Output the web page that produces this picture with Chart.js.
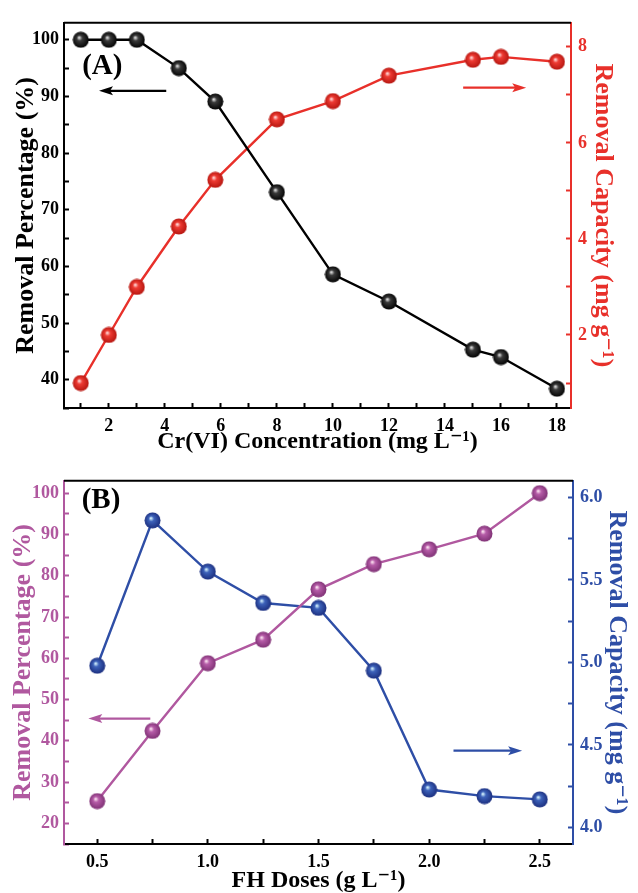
<!DOCTYPE html>
<html lang="en">
<head>
<meta charset="UTF-8">
<title>Cr(VI) removal</title>
<script src="https://cdn.jsdelivr.net/npm/chart.js@4.4.0/dist/chart.umd.min.js"></script>
<style>
  body { margin: 0; background: #fff; font-family: 'Liberation Serif', serif; }
  .panel { position: absolute; left: 0; width: 638px; }
</style>
</head>
<body>
<div class="panel" style="top:0;height:458px"><canvas id="chartA" width="638" height="458"></canvas></div>
<div class="panel" style="top:458px;height:435px"><canvas id="chartB" width="638" height="435"></canvas></div>
<script>
// panel A: effect of Cr(VI) concentration
const concA = [1, 2, 3, 4.5, 5.8, 8, 10, 12, 15, 16, 18];
const percentA = [100, 100, 100, 95.0, 89.1, 73.1, 58.6, 53.8, 45.3, 44.0, 38.4];
const capacityA = [1.0, 2.0, 3.0, 4.26, 5.23, 6.49, 6.87, 7.40, 7.73, 7.79, 7.69];

// panel B: effect of FH dose
const dosesB = [0.5, 0.75, 1.0, 1.25, 1.5, 1.75, 2.0, 2.25, 2.5];
const percentB = [25.4, 42.4, 58.8, 64.5, 76.7, 82.8, 86.4, 90.2, 100];
const capacityB = [4.98, 5.86, 5.55, 5.36, 5.33, 4.95, 4.23, 4.19, 4.17];

const BLACK = '#000000';
const RED = '#e8302a';
const PURPLE = '#b0589f';
const BLUE = '#2e4ea6';
const SERIF = "'Liberation Serif', 'DejaVu Serif', serif";

Chart.defaults.font.family = SERIF;
Chart.defaults.font.weight = 'bold';

function pts(xs, ys) {
  return xs.map((x, i) => ({ x: x, y: ys[i] }));
}

// little shaded ball used as marker
function sphere(hi, mid, dark) {
  const c = document.createElement('canvas');
  c.width = 17; c.height = 17;
  const g = c.getContext('2d');
  const grd = g.createRadialGradient(6.8, 6.2, 0.3, 8.5, 8.5, 8.5);
  grd.addColorStop(0, hi);
  grd.addColorStop(0.3, mid);
  grd.addColorStop(1, dark);
  g.fillStyle = grd;
  g.beginPath();
  g.arc(8.5, 8.5, 8, 0, Math.PI * 2);
  g.fill();
  return c;
}

function series(data, color, ball, axis) {
  return {
    data: data,
    yAxisID: axis,
    borderColor: color,
    borderWidth: 2.4,
    pointStyle: ball,
    pointRadius: 8,
    clip: false
  };
}

function axis(pos, color, min, max, step, fmt, title, titleSize, titlePad, size) {
  return {
    type: 'linear',
    position: pos,
    min: min,
    max: max,
    border: { color: color, width: 2 },
    grid: { drawOnChartArea: false, color: color, tickColor: color, tickLength: -5, tickWidth: 2 },
    ticks: {
      stepSize: step,
      includeBounds: false,
      autoSkip: false,
      maxRotation: 0,
      color: color,
      padding: pos === 'bottom' ? 13 : (pos === 'left' ? 10 : 12),
      font: { size: 18, weight: 'bold' },
      callback: fmt
    },
    title: {
      display: true,
      text: title,
      color: color,
      font: { size: titleSize, weight: 'bold', lineHeight: 1 },
      padding: { top: titlePad, bottom: titlePad }
    },
    afterFit: s => {
      if (pos === 'bottom') s.height = size; else s.width = size;
    }
  };
}

const every = (n, digits) => v => {
  const k = v / n;
  return Math.abs(k - Math.round(k)) < 1e-6 ? v.toFixed(digits) : '';
};

// frame top line, "(A)"/"(B)" label and the direction arrows
const panelNotes = {
  id: 'panelNotes',
  afterDraw(chart, args, opts) {
    const { ctx, chartArea, scales } = chart;
    ctx.save();
    ctx.strokeStyle = BLACK;
    ctx.lineWidth = 2;
    ctx.beginPath();
    ctx.moveTo(chartArea.left, chartArea.top);
    ctx.lineTo(chartArea.right, chartArea.top);
    ctx.stroke();

    ctx.fillStyle = BLACK;
    ctx.font = 'bold 29px ' + SERIF;
    ctx.textAlign = 'left';
    ctx.textBaseline = 'middle';
    ctx.fillText(opts.label.text, scales.x.getPixelForValue(opts.label.x), scales[opts.label.axis].getPixelForValue(opts.label.y));

    opts.arrows.forEach(a => {
      const x1 = scales.x.getPixelForValue(a.from);
      const x2 = scales.x.getPixelForValue(a.to);
      const y = scales[a.axis].getPixelForValue(a.at);
      const dir = Math.sign(x2 - x1);
      ctx.strokeStyle = a.color;
      ctx.fillStyle = a.color;
      ctx.lineWidth = 2.2;
      ctx.beginPath();
      ctx.moveTo(x1, y);
      ctx.lineTo(x2 - dir * 8, y);
      ctx.stroke();
      ctx.beginPath();
      ctx.moveTo(x2, y);
      ctx.lineTo(x2 - dir * 14, y - 4.5);
      ctx.lineTo(x2 - dir * 11, y);
      ctx.lineTo(x2 - dir * 14, y + 4.5);
      ctx.closePath();
      ctx.fill();
    });
    ctx.restore();
  }
};

function draw() {
  new Chart(document.getElementById('chartA'), {
    type: 'line',
    data: {
      datasets: [
        series(pts(concA, percentA), BLACK, sphere('#e6e6e6', '#3a3a3a', '#000000'), 'y'),
        series(pts(concA, capacityA), RED, sphere('#ffe0e0', '#ee3b33', '#b3140e'), 'y2')
      ]
    },
    options: {
      responsive: false,
      animation: false,
      layout: { padding: { top: 13 } },
      plugins: {
        legend: { display: false },
        tooltip: { enabled: false },
        panelNotes: {
          label: { text: '(A)', x: 1.05, y: 95.2, axis: 'y' },
          arrows: [
            { axis: 'y', from: 4.05, to: 1.65, at: 91, color: BLACK },
            { axis: 'y2', from: 14.65, to: 16.9, at: 7.15, color: RED }
          ]
        }
      },
      scales: {
        x: axis('bottom', BLACK, 0.4, 18.5, 1, every(2, 0), 'Cr(VI) Concentration (mg L\u207B\u00B9)', 24, 4, 50),
        y: axis('left', BLACK, 35, 103, 5, every(10, 0), 'Removal Percentage (%)', 26, 13, 64),
        y2: axis('right', RED, 0.48, 8.5, 1, every(2, 0), 'Removal Capacity (mg g\u207B\u00B9)', 26, 22, 67)
      }
    },
    plugins: [panelNotes]
  });

  new Chart(document.getElementById('chartB'), {
    type: 'line',
    data: {
      datasets: [
        series(pts(dosesB, percentB), PURPLE, sphere('#ffe8f4', '#b65ca8', '#7c2f72'), 'y'),
        series(pts(dosesB, capacityB), BLUE, sphere('#d8f6ff', '#3d62ba', '#1a2c7c'), 'y2')
      ]
    },
    options: {
      responsive: false,
      animation: false,
      layout: { padding: { top: 14 } },
      plugins: {
        legend: { display: false },
        tooltip: { enabled: false },
        panelNotes: {
          label: { text: '(B)', x: 0.43, y: 98.3, axis: 'y' },
          arrows: [
            { axis: 'y', from: 0.74, to: 0.46, at: 45.4, color: PURPLE },
            { axis: 'y2', from: 2.11, to: 2.42, at: 4.465, color: BLUE }
          ]
        }
      },
      scales: {
        x: axis('bottom', BLACK, 0.35, 2.65, 0.25, every(0.5, 1), 'FH Doses (g L\u207B\u00B9)', 24, 0, 49),
        y: axis('left', PURPLE, 15, 103, 5, every(10, 0), 'Removal Percentage (%)', 26, 10, 64),
        y2: axis('right', BLUE, 3.9, 6.1, 0.25, every(0.5, 1), 'Removal Capacity (mg g\u207B\u00B9)', 26, 8, 65)
      }
    },
    plugins: [panelNotes]
  });
}

// make sure the serif face is ready before drawing on canvas
Promise.all([
  document.fonts.load('bold 18px "Liberation Serif"'),
  document.fonts.load('bold 26px "Liberation Serif"')
]).then(draw, draw);
</script>
</body>
</html>
